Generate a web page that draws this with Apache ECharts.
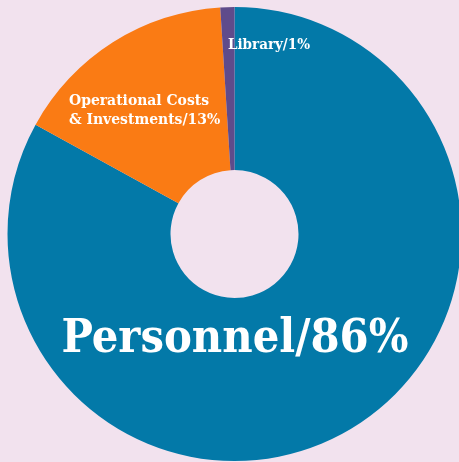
<!DOCTYPE html>
<html><head><meta charset="utf-8">
<script src="https://cdn.jsdelivr.net/npm/echarts@6/dist/echarts.min.js"></script>
<style>html,body{margin:0;padding:0;background:#f2e2ee;}#c{width:459px;height:462px;}</style>
</head><body><div id="c"></div>
<script>
var categories = ['Personnel', 'Operational Costs\n& Investments', 'Library'];
var values = [83, 16, 1];
var labelPct = ['86%', '13%', '1%'];
var colors = ['#0379a8', '#fa7b14', '#5f4b8b'];

var chart = echarts.init(document.getElementById('c'));
var labelPos = [
  {x: 235, y: 340, align: 'center', verticalAlign: 'middle'},
  {x: 69, y: 110, align: 'left', verticalAlign: 'middle'},
  {x: 228, y: 45, align: 'left', verticalAlign: 'middle'}
];
var labelFont = [
  {fontSize: 46.5},
  {fontSize: 15.5, lineHeight: 19},
  {fontSize: 15}
];
chart.setOption({
  backgroundColor: '#f2e2ee',
  animation: false,
  series: [{
    type: 'pie',
    center: [234.5, 234],
    radius: [64, 227],
    startAngle: 90,
    clockwise: true,
    silent: true,
    labelLine: {show: false},
    data: categories.map(function (c, i) {
      return {
        name: c,
        value: values[i],
        itemStyle: {color: colors[i]},
        label: Object.assign({
          show: true,
          position: 'inside',
          formatter: c + '/' + labelPct[i],
          color: '#ffffff',
          fontFamily: '"DejaVu Serif Condensed", "DejaVu Serif", serif',
          fontWeight: 'bold'
        }, labelFont[i])
      };
    })
  }]
});
chart.setOption({
  series: [{
    labelLayout: function (p) {
      return labelPos[p.dataIndex];
    }
  }]
});
</script></body></html>
